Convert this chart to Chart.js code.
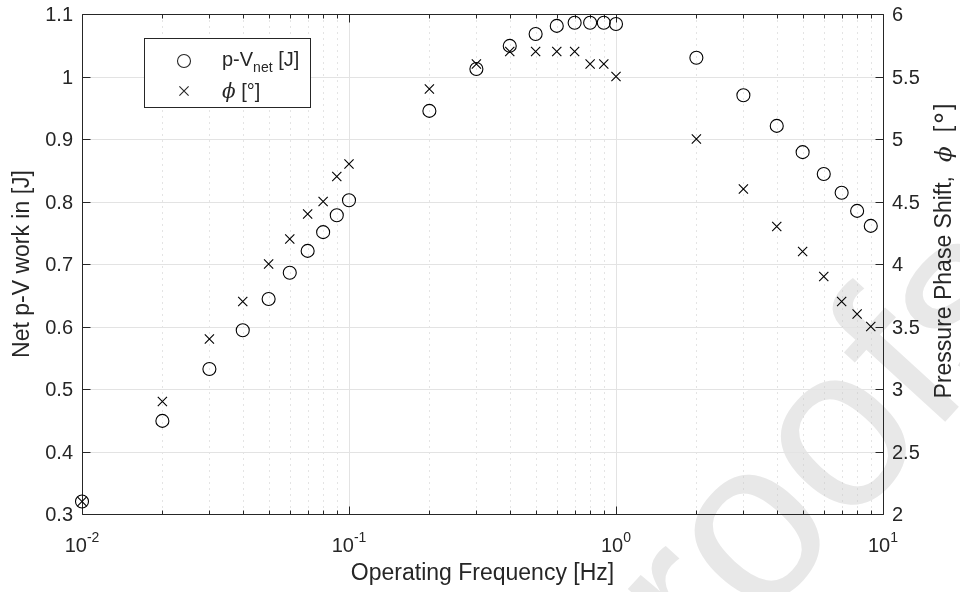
<!DOCTYPE html>
<html>
<head>
<meta charset="utf-8">
<script src="https://cdn.jsdelivr.net/npm/chart.js@4.4.1/dist/chart.umd.min.js"></script>
<style>
  html, body { margin: 0; padding: 0; background: #fff; }
  #wrap { width: 960px; height: 592px; position: relative; }
</style>
</head>
<body>
<div id="wrap"><canvas id="chart"></canvas></div>
<script>
/* ── data ── */
const freqHz = [0.01, 0.02, 0.03, 0.04, 0.05, 0.06, 0.07, 0.08, 0.09, 0.1,
                0.2, 0.3, 0.4, 0.5, 0.6, 0.7, 0.8, 0.9, 1,
                2, 3, 4, 5, 6, 7, 8, 9];
const workJ  = [0.32, 0.449, 0.532, 0.594, 0.644, 0.686, 0.721, 0.751, 0.778, 0.802,
                0.945, 1.012, 1.049, 1.068, 1.081, 1.086, 1.086, 1.086, 1.084,
                1.030, 0.970, 0.921, 0.879, 0.844, 0.814, 0.785, 0.761];
const phaseDeg = [2.1, 2.9, 3.4, 3.7, 4.0, 4.2, 4.4, 4.5, 4.7, 4.8,
                  5.4, 5.6, 5.7, 5.7, 5.7, 5.7, 5.6, 5.6, 5.5,
                  5.0, 4.6, 4.3, 4.1, 3.9, 3.7, 3.6, 3.5];

/* ── axis ticks ── */
const xDecades   = [0.01, 0.1, 1, 10];
const xExponents = ['-2', '-1', '0', '1'];
const xMinorMult = [2, 3, 4, 5, 6, 7, 8, 9];
const yLeftTicks  = [0.3, 0.4, 0.5, 0.6, 0.7, 0.8, 0.9, 1, 1.1];
const yLeftLabels = ['0.3', '0.4', '0.5', '0.6', '0.7', '0.8', '0.9', '1', '1.1'];
const yRightTicks  = [2, 2.5, 3, 3.5, 4, 4.5, 5, 5.5, 6];
const yRightLabels = ['2', '2.5', '3', '3.5', '4', '4.5', '5', '5.5', '6'];

const FONT   = '"Liberation Sans", Arial, sans-serif';
const MATHF  = 'italic 23px "DejaVu Serif", serif';
const INK    = '#262626';
const GRID   = '#e3e3e3';
const MINOR  = '#c8c8c8';

const pts = (ys) => freqHz.map((f, i) => ({ x: f, y: ys[i] }));

/* draws the MATLAB-style frame, grid, ticks, labels, legend */
const matlabAxes = {
  id: 'matlabAxes',
  beforeDraw(chart) {
    const ctx = chart.ctx;
    // faint "Proofs" watermark
    ctx.save();
    ctx.translate(828, 550);
    ctx.rotate(-47.6 * Math.PI / 180);
    ctx.font = '230px ' + FONT;
    ctx.fillStyle = '#e8e8e8';
    ctx.textAlign = 'center';
    ctx.textBaseline = 'alphabetic';
    ctx.fillText('Proofs', 0, 0);
    ctx.restore();
  },
  beforeDatasetsDraw(chart) {
    const { ctx, chartArea: a, scales } = chart;
    const xs = scales.x, yl = scales.y, yr = scales.y1;
    const L = Math.round(a.left) + 0.5, R = Math.round(a.right) + 0.5;
    const T = Math.round(a.top) + 0.5, B = Math.round(a.bottom) + 0.5;
    const px = v => Math.round(xs.getPixelForValue(v)) + 0.5;
    const py = (s, v) => Math.round(s.getPixelForValue(v)) + 0.5;

    ctx.save();
    ctx.lineWidth = 1;

    // minor vertical grid (dotted)
    ctx.strokeStyle = MINOR;
    ctx.setLineDash([1, 5]);
    xDecades.slice(0, -1).forEach(d => xMinorMult.forEach(m => {
      const x = px(d * m);
      ctx.beginPath(); ctx.moveTo(x, T); ctx.lineTo(x, B); ctx.stroke();
    }));
    ctx.setLineDash([]);

    // major grid
    ctx.strokeStyle = GRID;
    xDecades.forEach(d => {
      const x = px(d);
      ctx.beginPath(); ctx.moveTo(x, T); ctx.lineTo(x, B); ctx.stroke();
    });
    yLeftTicks.forEach(v => {
      const y = py(yl, v);
      ctx.beginPath(); ctx.moveTo(L, y); ctx.lineTo(R, y); ctx.stroke();
    });

    // frame
    ctx.strokeStyle = INK;
    ctx.beginPath();
    ctx.moveTo(L, T); ctx.lineTo(R, T); ctx.lineTo(R, B); ctx.lineTo(L, B); ctx.closePath();
    ctx.stroke();

    // inward ticks
    ctx.beginPath();
    xDecades.forEach(d => {
      const x = px(d);
      ctx.moveTo(x, B); ctx.lineTo(x, B - 8);
      ctx.moveTo(x, T); ctx.lineTo(x, T + 8);
    });
    xDecades.slice(0, -1).forEach(d => xMinorMult.forEach(m => {
      const x = px(d * m);
      ctx.moveTo(x, B); ctx.lineTo(x, B - 4);
      ctx.moveTo(x, T); ctx.lineTo(x, T + 4);
    }));
    yLeftTicks.forEach(v => { const y = py(yl, v); ctx.moveTo(L, y); ctx.lineTo(L + 8, y); });
    yRightTicks.forEach(v => { const y = py(yr, v); ctx.moveTo(R, y); ctx.lineTo(R - 8, y); });
    ctx.stroke();

    // tick labels
    ctx.fillStyle = INK;
    ctx.font = '20px ' + FONT;
    ctx.textBaseline = 'middle';
    ctx.textAlign = 'right';
    yLeftTicks.forEach((v, i) => ctx.fillText(yLeftLabels[i], a.left - 9, yl.getPixelForValue(v) + 1.5));
    ctx.textAlign = 'left';
    yRightTicks.forEach((v, i) => ctx.fillText(yRightLabels[i], a.right + 9, yr.getPixelForValue(v) + 1.5));

    ctx.textBaseline = 'alphabetic';
    xDecades.forEach((d, i) => {
      ctx.font = '20px ' + FONT;
      const wBase = ctx.measureText('10').width;
      ctx.font = '14px ' + FONT;
      const wSup = ctx.measureText(xExponents[i]).width;
      const x0 = xs.getPixelForValue(d) - (wBase + wSup) / 2;
      ctx.font = '20px ' + FONT;
      ctx.fillText('10', x0, a.bottom + 38);
      ctx.font = '14px ' + FONT;
      ctx.fillText(xExponents[i], x0 + wBase, a.bottom + 28);
    });

    // axis titles
    ctx.font = '23px ' + FONT;
    ctx.textAlign = 'center';
    ctx.textBaseline = 'middle';
    ctx.fillText('Operating Frequency [Hz]', (a.left + a.right) / 2, a.bottom + 60);

    const midY = (a.top + a.bottom) / 2;
    ctx.save();
    ctx.translate(23, midY);
    ctx.rotate(-Math.PI / 2);
    ctx.fillText('Net p-V work in [J]', 0, 0);
    ctx.restore();

    // right title, tex-like spacing around the italic phi
    const fN = '23px ' + FONT;
    const parts = [
      { t: 'Pressure Phase Shift,', f: fN, gap: 14 },
      { t: '\u03D5', f: MATHF, gap: 14 },
      { t: '[', f: fN, gap: 2 },
      { t: '\u00B0', f: '30px ' + FONT, gap: 2 },
      { t: ']', f: fN, gap: 0 },
    ];
    let total = 0;
    parts.forEach(p => { ctx.font = p.f; p.w = ctx.measureText(p.t).width; total += p.w + p.gap; });
    ctx.save();
    ctx.translate(943, 251);
    ctx.rotate(-Math.PI / 2);
    ctx.textAlign = 'left';
    ctx.textBaseline = 'alphabetic';
    let sx = -total / 2;
    parts.forEach(p => {
      ctx.font = p.f;
      ctx.fillText(p.t, sx, 8 + (p.t === '\u00B0' ? 4 : 0));
      sx += p.w + p.gap;
    });
    ctx.restore();

    ctx.restore();
  },
  afterDatasetsDraw(chart) {
    const ctx = chart.ctx;
    ctx.save();
    // legend box
    ctx.fillStyle = '#fff';
    ctx.fillRect(144.5, 38.5, 166, 69);
    ctx.strokeStyle = INK;
    ctx.lineWidth = 1;
    ctx.strokeRect(144.5, 38.5, 166, 69);

    // legend markers
    ctx.lineWidth = 1.1;
    ctx.beginPath(); ctx.arc(184, 61, 6.5, 0, Math.PI * 2); ctx.stroke();
    const r = 4.6;
    ctx.beginPath();
    ctx.moveTo(184 - r, 91 - r); ctx.lineTo(184 + r, 91 + r);
    ctx.moveTo(184 + r, 91 - r); ctx.lineTo(184 - r, 91 + r);
    ctx.stroke();

    // legend text
    ctx.fillStyle = INK;
    ctx.textBaseline = 'alphabetic';
    ctx.textAlign = 'left';
    let x = 222;
    ctx.font = '20px ' + FONT; ctx.fillText('p-V', x, 66); x += ctx.measureText('p-V').width;
    ctx.font = '14px ' + FONT; ctx.fillText('net', x, 72); x += ctx.measureText('net').width;
    ctx.font = '20px ' + FONT; ctx.fillText(' [J]', x, 66);
    x = 222;
    ctx.font = 'italic 20px "DejaVu Serif", serif'; ctx.fillText('\u03D5', x, 98); x += ctx.measureText('\u03D5').width;
    ctx.font = '20px ' + FONT; ctx.fillText(' [\u00B0]', x, 98);
    ctx.restore();
  }
};

new Chart(document.getElementById('chart'), {
  type: 'scatter',
  data: {
    datasets: [
      { label: 'p-V net [J]', data: pts(workJ), yAxisID: 'y',
        pointStyle: 'circle', pointRadius: 6.5, borderWidth: 1.1,
        borderColor: '#000', backgroundColor: 'rgba(0,0,0,0)', clip: false },
      { label: 'phi [deg]', data: pts(phaseDeg), yAxisID: 'y1',
        pointStyle: 'crossRot', pointRadius: 6.5, borderWidth: 1.1,
        borderColor: '#000', backgroundColor: 'rgba(0,0,0,0)', clip: false },
    ],
  },
  options: {
    responsive: true,
    maintainAspectRatio: false,
    animation: false,
    events: [],
    layout: { padding: { left: 82, right: 77, top: 14, bottom: 78 } },
    plugins: { legend: { display: false }, tooltip: { enabled: false } },
    scales: {
      x:  { type: 'logarithmic', min: 0.01, max: 10, display: false },
      y:  { type: 'linear', position: 'left', min: 0.3, max: 1.1, display: false },
      y1: { type: 'linear', position: 'right', min: 2, max: 6, display: false },
    },
  },
  plugins: [matlabAxes],
});
</script>
</body>
</html>
